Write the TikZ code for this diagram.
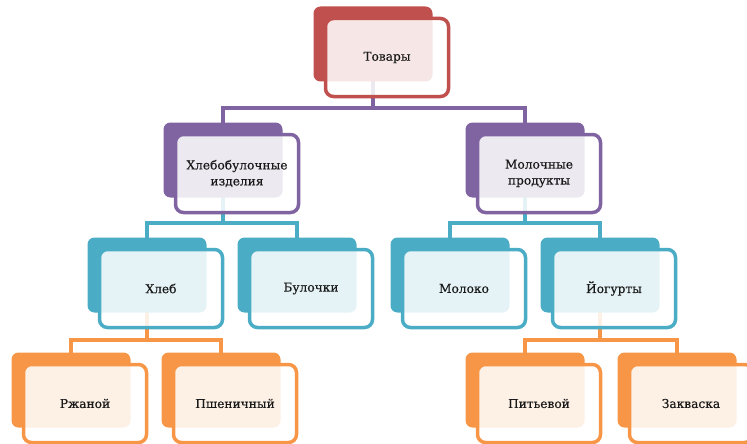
\documentclass[tikz,border=0pt]{standalone}
\usepackage{fontspec}
\setmainfont{DejaVu Serif}
\newfontfamily\boxfont[FakeBold=0.35]{DejaVu Serif}
\usetikzlibrary{backgrounds}

\definecolor{boxred}{HTML}{C0504D}
\definecolor{boxpurple}{HTML}{8064A2}
\definecolor{boxteal}{HTML}{4BACC6}
\definecolor{boxorange}{HTML}{F79646}

\tikzset{
	back box/.style={
		fill=#1, draw=none, rounded corners=7pt,
		minimum width=119pt, minimum height=75pt, inner sep=0pt
	},
	front box/.style={
		draw=#1, line width=3.5pt, fill=white, fill opacity=0.86, text opacity=1,
		rounded corners=8pt, minimum width=123pt, minimum height=78pt,
		align=center, font=\boxfont\fontsize{12.2}{16}\selectfont, text=black!90
	},
	link/.style={draw=#1, line width=3.5pt}
}

% back box + front box with the label
\newcommand{\pairbox}[4]{
	\node[back box=#2] (#1) at (#3) {};
	\node[front box=#2] (#1-f) at ([shift={(14,13.5)}]#1.center) {#4};
}

\begin{document}
\begin{tikzpicture}[x=1pt, y=-1pt]
	\useasboundingbox (0,0) rectangle (747,444);

	\pairbox{tovary}{boxred}{373,44}{Товары}
	\pairbox{hlebo}{boxpurple}{223,160}{Хлебобулочные\\изделия}
	\pairbox{moloch}{boxpurple}{525,160}{Молочные\\продукты}
	\pairbox{hleb}{boxteal}{147,275}{Хлеб}
	\pairbox{bulki}{boxteal}{297,275}{Булочки}
	\pairbox{moloko}{boxteal}{450,275}{Молоко}
	\pairbox{yogurt}{boxteal}{600,275}{Йогурты}
	\pairbox{rzhan}{boxorange}{71,390}{Ржаной}
	\pairbox{pshen}{boxorange}{221,390}{Пшеничный}
	\pairbox{pitev}{boxorange}{525,390}{Питьевой}
	\pairbox{zakv}{boxorange}{677,390}{Закваска}

	\begin{scope}[on background layer]
		% level 1 -> 2
		\draw[link=boxpurple] (tovary.center) -- (tovary.center |- 0,108) -| (hlebo.center);
		\draw[link=boxpurple] (tovary.center |- 0,108) -| (moloch.center);
		% level 2 -> 3
		\draw[link=boxteal] (hlebo.center) -- (hlebo.center |- 0,223) -| (hleb.center);
		\draw[link=boxteal] (hlebo.center |- 0,223) -| (bulki.center);
		\draw[link=boxteal] (moloch.center) -- (moloch.center |- 0,223) -| (moloko.center);
		\draw[link=boxteal] (moloch.center |- 0,223) -| (yogurt.center);
		% level 3 -> 4
		\draw[link=boxorange] (hleb.center) -- (hleb.center |- 0,340) -| (rzhan.center);
		\draw[link=boxorange] (hleb.center |- 0,340) -| (pshen.center);
		\draw[link=boxorange] (yogurt.center) -- (yogurt.center |- 0,340) -| (pitev.center);
		\draw[link=boxorange] (yogurt.center |- 0,340) -| (zakv.center);
	\end{scope}
\end{tikzpicture}
\end{document}
